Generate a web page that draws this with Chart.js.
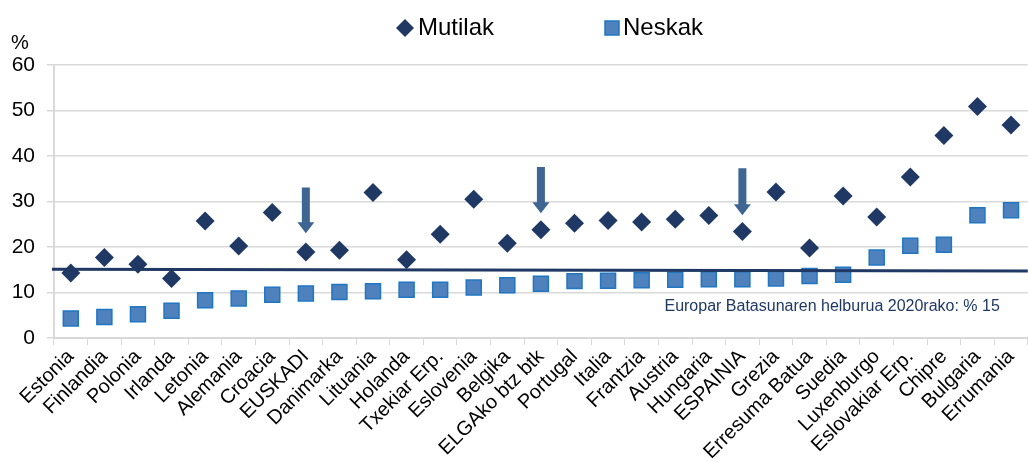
<!DOCTYPE html>
<html>
<head>
<meta charset="utf-8">
<script src="https://cdn.jsdelivr.net/npm/chart.js@4.4.0/dist/chart.umd.min.js"></script>
<style>
  html, body { margin: 0; padding: 0; background: #fff; }
  #wrap { width: 1028px; height: 462px; position: relative; }
</style>
</head>
<body>
<div id="wrap"><canvas id="chart"></canvas></div>
<script>
const countries = ['Estonia', 'Finlandia', 'Polonia', 'Irlanda', 'Letonia', 'Alemania', 'Croacia',
    'EUSKADI', 'Danimarka', 'Lituania', 'Holanda', 'Txekiar Erp.', 'Eslovenia', 'Belgika',
    'ELGAko btz btk', 'Portugal', 'Italia', 'Frantzia', 'Austria', 'Hungaria', 'ESPAINIA',
    'Grezia', 'Erresuma Batua', 'Suedia', 'Luxenburgo', 'Eslovakiar Erp.', 'Chipre',
    'Bulgaria', 'Errumania'];

const mutilak = [14.3, 17.7, 16.2, 13.1, 25.7, 20.2, 27.6, 18.9, 19.3, 32.0, 17.2, 22.8, 30.5, 20.8,
    23.8, 25.2, 25.8, 25.5, 26.1, 26.9, 23.4, 32.1, 19.8, 31.2, 26.6, 35.4, 44.5, 50.9, 46.8];

const neskak = [4.3, 4.6, 5.2, 6.0, 8.3, 8.7, 9.5, 9.8, 10.1, 10.3, 10.6, 10.6, 11.1, 11.6,
    11.9, 12.5, 12.6, 12.7, 12.8, 12.9, 12.9, 13.1, 13.6, 13.9, 17.7, 20.3, 20.5, 27.0, 28.1];

const yTicks = [0, 10, 20, 30, 40, 50, 60];

// EU 2020 target line (drawn slightly sloped, as in the source)
const targetLeft = 15.1;
const targetRight = 14.7;
const targetText = 'Europar Batasunaren helburua 2020rako: % 15';

// arrows pointing at the highlighted rows
const arrowCats = ['EUSKADI', 'ELGAko btz btk', 'ESPAINIA'];
const arrowFrom = [33.1, 37.6, 37.3];
const arrowTo = [23.0, 27.4, 27.0];

const navy = '#1f3864';
const blueFill = '#4f81bd';
const blueEdge = '#1f77c4';
const arrowColor = '#3f6593';
const gridColor = '#d9d9d9';
const font = "'Liberation Sans', Arial, sans-serif";

const extras = {
    id: 'extras',
    afterDatasetsDraw(chart) {
        const { ctx, chartArea: a, scales: { x, y } } = chart;
        ctx.save();

        // target line
        ctx.strokeStyle = navy;
        ctx.lineWidth = 3;
        ctx.beginPath();
        ctx.moveTo(a.left - 2, y.getPixelForValue(targetLeft));
        ctx.lineTo(a.right, y.getPixelForValue(targetRight));
        ctx.stroke();

        // caption
        ctx.fillStyle = navy;
        ctx.font = '16px ' + font;
        ctx.textAlign = 'right';
        ctx.textBaseline = 'middle';
        ctx.fillText(targetText, a.right - 28, y.getPixelForValue(6.8));

        // arrows
        ctx.fillStyle = arrowColor;
        arrowCats.forEach((c, i) => {
            const cx = x.getPixelForValue(countries.indexOf(c));
            const top = y.getPixelForValue(arrowFrom[i]);
            const tip = y.getPixelForValue(arrowTo[i]);
            const head = 11;
            ctx.beginPath();
            ctx.moveTo(cx - 4, top);
            ctx.lineTo(cx + 4, top);
            ctx.lineTo(cx + 4, tip - head);
            ctx.lineTo(cx + 8.5, tip - head);
            ctx.lineTo(cx, tip);
            ctx.lineTo(cx - 8.5, tip - head);
            ctx.lineTo(cx - 4, tip - head);
            ctx.closePath();
            ctx.fill();
        });

        ctx.restore();
    },
    afterDraw(chart) {
        const { ctx } = chart;
        ctx.save();
        ctx.fillStyle = '#000';
        ctx.textBaseline = 'middle';
        ctx.textAlign = 'left';

        // "%" unit
        ctx.font = '20px ' + font;
        ctx.fillText('%', 11, 43);

        // legend
        ctx.font = '24px ' + font;
        ctx.fillStyle = navy;
        ctx.beginPath();
        ctx.moveTo(405, 19);
        ctx.lineTo(414, 28);
        ctx.lineTo(405, 37);
        ctx.lineTo(396, 28);
        ctx.closePath();
        ctx.fill();
        ctx.fillStyle = '#000';
        ctx.fillText(chart.data.datasets[0].label, 418, 28);

        ctx.fillStyle = blueFill;
        ctx.strokeStyle = blueEdge;
        ctx.lineWidth = 1.5;
        ctx.fillRect(605, 21, 14, 14);
        ctx.strokeRect(605, 21, 14, 14);
        ctx.fillStyle = '#000';
        ctx.fillText(chart.data.datasets[1].label, 623, 28);
        ctx.restore();
    }
};

new Chart(document.getElementById('chart'), {
    type: 'line',
    data: {
        labels: countries,
        datasets: [
            {
                label: 'Mutilak',
                data: mutilak,
                showLine: false,
                pointStyle: 'rectRot',
                pointRadius: 9.5,
                pointHoverRadius: 9.5,
                backgroundColor: navy,
                borderColor: navy,
                borderWidth: 0
            },
            {
                label: 'Neskak',
                data: neskak,
                showLine: false,
                pointStyle: 'rect',
                pointRadius: 10.6,
                pointHoverRadius: 10.6,
                backgroundColor: blueFill,
                borderColor: blueEdge,
                borderWidth: 1.5
            }
        ]
    },
    options: {
        responsive: true,
        maintainAspectRatio: false,
        animation: false,
        layout: { autoPadding: false, padding: { top: 65, right: 0, left: 0, bottom: 0 } },
        plugins: {
            legend: { display: false },
            tooltip: { enabled: false }
        },
        scales: {
            x: {
                offset: true,
                grid: { offset: true, drawOnChartArea: false, drawTicks: true, tickLength: 7, color: gridColor },
                border: { color: gridColor, width: 2 },
                ticks: {
                    autoSkip: false,
                    minRotation: 45,
                    maxRotation: 45,
                    padding: 0,
                    color: '#000',
                    font: { family: font, size: 20 }
                },
                afterFit: s => { s.height = 124; }
            },
            y: {
                min: 0,
                max: 60,
                afterBuildTicks: s => { s.ticks = yTicks.map(v => ({ value: v })); },
                grid: { color: gridColor, lineWidth: 1.5, tickLength: 7 },
                border: { color: gridColor, width: 2 },
                ticks: {
                    padding: 12,
                    color: '#000',
                    font: { family: font, size: 21 }
                },
                afterFit: s => { s.width = 54; }
            }
        }
    },
    plugins: [extras]
});
</script>
</body>
</html>
